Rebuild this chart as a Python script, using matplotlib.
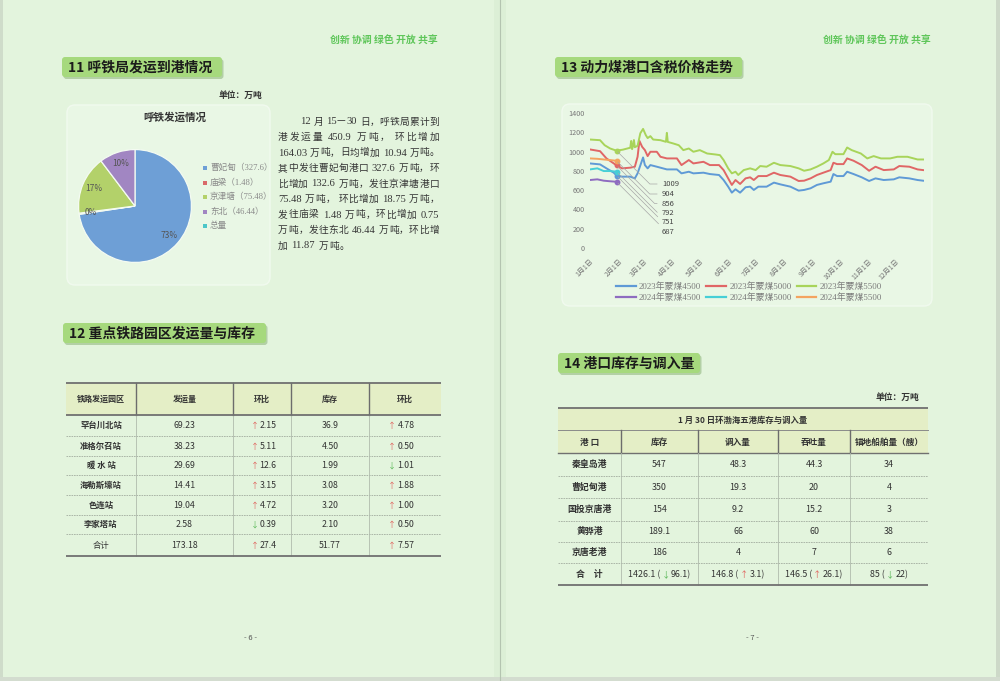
import re
import pandas as pd
import matplotlib
matplotlib.use('Agg')
import matplotlib.pyplot as plt
from matplotlib.patches import FancyBboxPatch, Rectangle

plt.rcParams['font.family'] = ['Noto Sans CJK SC', 'DejaVu Sans']
plt.rcParams['axes.unicode_minus'] = False
SERIF = ['Liberation Serif', 'Noto Sans CJK SC', 'DejaVu Sans']

# ------------------------------------------------------------------ data
slogan = '创新 协调 绿色 开放 共享'
sec11_title = '11 呼铁局发运到港情况'
sec12_title = '12 重点铁路园区发运量与库存'
sec13_title = '13 动力煤港口含税价格走势'
sec14_title = '14 港口库存与调入量'
unit_label = '单位：万吨'
page_numbers = ['- 6 -', '- 7 -']

pie_title = '呼铁发运情况'
pie_cats = ['曹妃甸', '庙梁', '京津塘', '东北', '总量']
pie_vals = [327.6, 1.48, 75.48, 46.44]

paragraph = [
    '12 月 15—30 日，呼铁局累计到',
    '港发运量 450.9 万吨， 环比增加',
    '164.03 万吨，日均增加 10.94 万吨。',
    '其中发往曹妃甸港口 327.6 万吨，环',
    '比增加 132.6 万吨，发往京津塘港口',
    '75.48 万吨， 环比增加 18.75 万吨，',
    '发往庙梁 1.48 万吨，环比增加 0.75',
    '万吨，发往东北 46.44 万吨，环比增',
    '加 11.87 万吨。',
]

t12_header = ['铁路发运园区', '发运量', '环比', '库存', '环比']
t12_station = ['罕台川北站', '准格尔召站', '暖 水 站', '海勒斯壕站', '色连站', '李家塔站', '合计']
t12_ship = ['69.23', '38.23', '29.69', '14.41', '19.04', '2.58', '173.18']
t12_ship_chg = ['+2.15', '+5.11', '+12.6', '+3.15', '+4.72', '-0.39', '+27.4']
t12_stock = ['36.9', '4.50', '1.99', '3.08', '3.20', '2.10', '51.77']
t12_stock_chg = ['+4.78', '+0.50', '-1.01', '+1.88', '+1.00', '+0.50', '+7.57']

t14_title = '1 月 30 日环渤海五港库存与调入量'
t14_header = ['港 口', '库存', '调入量', '吞吐量', '锚地船舶量（艘）']
t14_port = ['秦皇岛港', '曹妃甸港', '国投京唐港', '黄骅港', '京唐老港']
t14_stock = ['547', '350', '154', '189.1', '186']
t14_in = ['48.3', '19.3', '9.2', '66', '4']
t14_thru = ['44.3', '20', '15.2', '60', '7']
t14_anchor = ['34', '4', '3', '38', '6']
t14_total_label = '合　计'
t14_total = ['1426.1', '146.8', '146.5', '85']
t14_total_chg = ['-96.1', '+3.1', '+26.1', '-22']

month_labels = ['%d月1日' % m for m in range(1, 13)]
y_ticks = [0, 200, 400, 600, 800, 1000, 1200, 1400]

# 2023 series (day of year starting at 0 = Jan 1)
g23_days = [0, 11, 16, 22, 29, 36, 42, 44, 45, 46, 47, 48, 49, 52, 55, 58, 61, 63, 66, 69,
            77, 83, 84, 85, 91, 97, 102, 108, 113, 120, 128, 137, 142, 146, 151, 155, 159, 162,
            168, 175, 181, 186, 193, 201, 208, 219, 228, 234, 241, 248, 255, 261, 265, 268,
            277, 281, 286, 296, 303, 310, 318, 328, 336, 347, 358, 364]
g23_vals = [1125, 1118, 1066, 1032, 1009, 1020, 1035, 1040, 1110, 1025, 1060, 1120, 1045, 1060,
            1190, 1235, 1170, 1140, 1160, 1125, 1118, 1101, 1194, 1100, 1084, 1066, 1015, 1032,
            998, 1015, 980, 970, 963, 912, 826, 774, 791, 757, 808, 826, 808, 850, 843, 884,
            860, 850, 826, 801, 815, 843, 877, 912, 998, 973, 973, 1042, 1015, 980, 929, 953,
            929, 929, 946, 946, 918, 918]

r23_days = [0, 11, 18, 26, 29, 35, 44, 49, 52, 54, 57, 60, 63, 66, 73, 77, 84, 95, 100, 108,
            113, 124, 131, 141, 146, 151, 155, 159, 164, 170, 175, 179, 184, 193, 201, 208,
            219, 228, 234, 241, 248, 255, 263, 266, 270, 277, 281, 288, 297, 305, 312, 321,
            332, 338, 349, 358, 364]
r23_vals = [1022, 1004, 929, 877, 856, 826, 833, 843, 946, 1111, 1049, 1015, 953, 998, 998,
            946, 929, 929, 860, 912, 877, 894, 860, 860, 808, 722, 654, 705, 664, 722, 733,
            705, 746, 746, 781, 757, 740, 695, 698, 722, 757, 781, 808, 884, 870, 870, 929,
            905, 860, 801, 843, 808, 815, 850, 843, 815, 808]

b23_days = [0, 11, 18, 26, 29, 35, 44, 49, 52, 58, 60, 63, 66, 73, 84, 95, 100, 108, 113,
            124, 131, 141, 146, 151, 155, 159, 164, 170, 175, 179, 184, 193, 201, 208, 219,
            228, 234, 241, 248, 255, 263, 266, 270, 277, 281, 288, 297, 305, 312, 321, 332,
            338, 349, 358, 364]
b23_vals = [877, 867, 826, 781, 751, 740, 740, 722, 774, 939, 860, 826, 860, 843, 815, 815,
            774, 791, 774, 781, 767, 757, 705, 636, 574, 609, 574, 630, 636, 602, 636, 636,
            678, 660, 636, 595, 602, 619, 654, 671, 688, 767, 746, 746, 791, 767, 733, 695,
            722, 705, 712, 733, 722, 705, 698]

# 2024 series (January only)
d24_days = [0, 8, 15, 22, 29]
o24_vals = [929, 925, 918, 912, 904]
c24_vals = [815, 826, 798, 798, 792]
p24_vals = [705, 712, 698, 692, 687]

# ------------------------------------------------------------------ style
W, H = 1000, 681
BG = '#e3f4dd'
BOX = '#e9f7e5'
HEAD = '#e4eec6'
TITLE_FC = '#a6d97d'
SLOGAN = '#5fc65a'
DARK = '#333333'
UP = '#e0605a'
DOWN = '#55b653'
C_B23, C_R23, C_G23 = '#5f9ad6', '#e06666', '#a8d45a'
C_P24, C_C24, C_O24 = '#8e6cc0', '#46cfd6', '#f4a460'
PIE_COLORS = ['#6e9fd6', '#d96a6a', '#b3d16a', '#a186c2', '#4cc6c8']

fig = plt.figure(figsize=(W / 100, H / 100), dpi=100)
fig.patch.set_facecolor(BG)
ax0 = fig.add_axes([0, 0, 1, 1])
ax0.set_xlim(0, W)
ax0.set_ylim(H, 0)
ax0.axis('off')
R = fig.canvas.get_renderer()


def adv(s, size, weight='normal', family=None):
    kw = dict(fontsize=size, fontweight=weight)
    if family:
        kw['family'] = family
    t1 = ax0.text(0, 0, '|' + s + '|', **kw)
    t2 = ax0.text(0, 0, '||', **kw)
    w = t1.get_window_extent(R).width - t2.get_window_extent(R).width
    t1.remove()
    t2.remove()
    return w


def ink(s, size):
    t = ax0.text(0, 0, s, fontsize=size)
    w = t.get_window_extent(R).width
    t.remove()
    return w


def title_box(x0, y0, x1, y1, text):
    ax0.add_patch(FancyBboxPatch((x0 + 1.5, y0 + 2), x1 - x0, y1 - y0,
                                 boxstyle='round,pad=0,rounding_size=3',
                                 fc='#93b981', ec='none', alpha=0.6))
    ax0.add_patch(FancyBboxPatch((x0, y0), x1 - x0, y1 - y0,
                                 boxstyle='round,pad=0,rounding_size=3',
                                 fc=TITLE_FC, ec='none'))
    ax0.text(x0 + 6, (y0 + y1) / 2 + 0.5, text, fontsize=10, fontweight='bold',
             ha='left', va='center', color='#1b1b1b')


def chg_pieces(s):
    arrow = '↑' if s.startswith('+') else '↓'
    return arrow, (UP if s.startswith('+') else DOWN), s[1:]


def total_cell(xc, yc, total, chg, size):
    a, ac, num = chg_pieces(chg)
    left = total + ' ('
    right = num + ')'
    wl = ink(left, size)
    wa = ink(a, size * 0.95)
    wr = ink(right, size)
    pad = 1.2
    x = xc - (wl + wa + wr + 2 * pad) / 2
    ax0.text(x, yc, left, fontsize=size, color=DARK, ha='left', va='center')
    ax0.text(x + wl + pad, yc, a, fontsize=size * 0.95, color=ac, ha='left', va='center')
    ax0.text(x + wl + wa + 2 * pad, yc, right, fontsize=size, color=DARK, ha='left', va='center')


# ------------------------------------------------------------------ page furniture
ax0.add_patch(Rectangle((494, 0), 12, H, fc='#dcefd6', ec='none'))
ax0.plot([500, 500], [0, H], color='#b4c4b0', lw=0.8)
ax0.add_patch(Rectangle((0, 0), 3, H, fc='#cfdcca', ec='none'))
ax0.add_patch(Rectangle((996, 0), 4, H, fc='#cdd9c8', ec='none'))
ax0.add_patch(Rectangle((0, 677), W, 4, fc='#d3dccf', ec='none'))

ax0.text(330, 41, slogan, fontsize=7.1, color=SLOGAN, ha='left', va='center', fontweight='bold')
ax0.text(823, 41, slogan, fontsize=7.1, color=SLOGAN, ha='left', va='center', fontweight='bold')
ax0.text(250, 638, page_numbers[0], fontsize=5.5, color='#555555', ha='center', va='center')
ax0.text(752, 638, page_numbers[1], fontsize=5.5, color='#555555', ha='center', va='center')

title_box(62, 57, 222, 77, sec11_title)
title_box(63, 323, 266, 343, sec12_title)
title_box(555, 57, 742, 77, sec13_title)
title_box(558, 353, 700, 373, sec14_title)

# ------------------------------------------------------------------ section 11
ax0.text(240, 95, unit_label, fontsize=6.3, fontweight='bold', color=DARK, ha='center', va='center')
ax0.add_patch(FancyBboxPatch((67, 105), 203, 180, boxstyle='round,pad=0,rounding_size=8',
                             fc=BOX, ec='#f1faef', lw=1))
ax0.text(175, 117, pie_title, fontsize=7.6, fontweight='bold', color=DARK, ha='center', va='center')

for i, cat in enumerate(pie_cats):
    y = 168 + 14.5 * i
    ax0.add_patch(Rectangle((203, y - 2), 4, 4, fc=PIE_COLORS[i], ec='none'))
    lab = cat + ('（%s）' % pie_vals[i] if i < len(pie_vals) else '')
    ax0.text(210, y, lab, fontsize=6.2, color='#8a8a8a', ha='left', va='center', family=SERIF)

# paragraph (justified)
P_SIZE = 7.0
em = P_SIZE * 100 / 72
for i, line in enumerate(paragraph):
    yc = 121 + 15.5 * i
    base = yc + 0.36 * em
    x0 = 300 if i == 0 else 278
    x1 = 439
    toks = re.findall(r'\d+(?:\.\d+)?| |\S', line)
    ws = []
    for t in toks:
        if t == ' ':
            ws.append(0.25 * em)
        elif ord(t[0]) > 127:
            ws.append(em)
        else:
            ws.append(adv(t, P_SIZE * 1.08, family=SERIF))
    if i == len(paragraph) - 1:
        gap = 0.6
    else:
        gap = (x1 - x0 - sum(ws)) / (len(toks) - 1)
    x = x0
    for t, w in zip(toks, ws):
        if t != ' ':
            if ord(t[0]) > 127:
                ax0.text(x, base, t, fontsize=P_SIZE, color='#363636', ha='left', va='baseline')
            else:
                ax0.text(x, base, t, fontsize=P_SIZE * 1.08, color='#363636', ha='left',
                         va='baseline', family=SERIF)
        x += w + gap

# ------------------------------------------------------------------ table 12
c12 = [66, 136, 233, 291, 369, 441]
r12 = [383, 415, 436, 456, 475, 495, 515, 534, 556]
ax0.add_patch(Rectangle((c12[0], r12[0]), c12[-1] - c12[0], r12[1] - r12[0], fc=HEAD, ec='none'))
for y in r12[2:-1]:
    ax0.plot([c12[0], c12[-1]], [y, y], color='#a3ad9f', lw=0.6, ls=(0, (2, 1)))
for x in c12[1:-1]:
    ax0.plot([x, x], [r12[0], r12[1]], color='#6c6c6c', lw=1.0)
    ax0.plot([x, x], [r12[1], r12[-1]], color='#b0bbad', lw=0.6)
for y in (r12[0], r12[1], r12[-1]):
    ax0.plot([c12[0], c12[-1]], [y, y], color='#707070', lw=1.3, solid_capstyle='butt')

cen12 = [(c12[i] + c12[i + 1]) / 2 for i in range(5)]
for x, s in zip(cen12, t12_header):
    ax0.text(x, 399.5, s, fontsize=5.8, fontweight='bold', color=DARK, ha='center', va='center')
arrow_x12 = {2: 254.5, 4: 392}
num_x12 = {2: 259.5, 4: 397.5}
for i in range(len(t12_station)):
    yc = (r12[i + 1] + r12[i + 2]) / 2 + 0.3
    bold = 'normal' if i == len(t12_station) - 1 else 'bold'
    ax0.text(cen12[0], yc, t12_station[i], fontsize=6, fontweight=bold, color=DARK,
             ha='center', va='center')
    ax0.text(cen12[1], yc, t12_ship[i], fontsize=6.3, color=DARK, ha='center', va='center')
    ax0.text(cen12[3], yc, t12_stock[i], fontsize=6.3, color=DARK, ha='center', va='center')
    for col, val in ((2, t12_ship_chg[i]), (4, t12_stock_chg[i])):
        a, ac, num = chg_pieces(val)
        ax0.text(arrow_x12[col], yc, a, fontsize=5.8, color=ac, ha='center', va='center')
        ax0.text(num_x12[col], yc, num, fontsize=6.3, color=DARK, ha='left', va='center')

# ------------------------------------------------------------------ table 14
ax0.text(897, 397, unit_label, fontsize=6.3, fontweight='bold', color=DARK, ha='center', va='center')
c14 = [558, 621, 698, 778, 850, 928]
r14 = [408, 430, 453, 476, 498, 521, 542, 563, 585]
ax0.add_patch(Rectangle((c14[0], r14[0]), c14[-1] - c14[0], r14[2] - r14[0], fc=HEAD, ec='none'))
ax0.plot([c14[0], c14[-1]], [r14[1], r14[1]], color='#8a8a8a', lw=0.7)
ax0.plot([c14[0], c14[-1]], [r14[2], r14[2]], color='#707070', lw=1.0)
for y in r14[3:-1]:
    ax0.plot([c14[0], c14[-1]], [y, y], color='#a3ad9f', lw=0.6, ls=(0, (2, 1)))
for x in c14[1:-1]:
    ax0.plot([x, x], [r14[1], r14[2]], color='#6c6c6c', lw=1.0)
    ax0.plot([x, x], [r14[2], r14[-1]], color='#b0bbad', lw=0.6)
for y in (r14[0], r14[-1]):
    ax0.plot([c14[0], c14[-1]], [y, y], color='#707070', lw=1.3, solid_capstyle='butt')

ax0.text((c14[0] + c14[-1]) / 2, 420.5, t14_title, fontsize=6, fontweight='bold', color=DARK,
         ha='center', va='center')
cen14 = [(c14[i] + c14[i + 1]) / 2 for i in range(5)]
for x, s in zip(cen14, t14_header):
    ax0.text(x, 442.5, s, fontsize=6.2, fontweight='bold', color=DARK, ha='center', va='center')
for i in range(len(t14_port)):
    yc = (r14[i + 2] + r14[i + 3]) / 2 + 0.3
    ax0.text(cen14[0], yc, t14_port[i], fontsize=6.4, fontweight='bold', color=DARK,
             ha='center', va='center')
    for j, col in enumerate((t14_stock, t14_in, t14_thru, t14_anchor)):
        ax0.text(cen14[j + 1], yc, col[i], fontsize=6.4, color=DARK, ha='center', va='center')
yc = (r14[-2] + r14[-1]) / 2 + 0.3
ax0.text(cen14[0], yc, t14_total_label, fontsize=6.4, fontweight='bold', color=DARK,
         ha='center', va='center')
for j in range(4):
    total_cell(cen14[j + 1], yc, t14_total[j], t14_total_chg[j], 6.4)

# ------------------------------------------------------------------ section 13 chart box
ax0.add_patch(FancyBboxPatch((562, 104), 370, 202, boxstyle='round,pad=0,rounding_size=8',
                             fc=BOX, ec='#f1faef', lw=1))

# ------------------------------------------------------------------ pie
pc, pr = (135, 206), 57
ax_p = fig.add_axes([(pc[0] - pr) / W, 1 - (pc[1] + pr) / H, 2 * pr / W, 2 * pr / H])
wedges, texts, autotexts = ax_p.pie(
    pie_vals, colors=PIE_COLORS[:len(pie_vals)], startangle=90, counterclock=False,
    autopct='%.0f%%', pctdistance=0.8,
    wedgeprops=dict(edgecolor='#f4fbf2', linewidth=0.9),
    textprops=dict(fontsize=6, color='#555555'))
ax_p.set_xlim(-1.01, 1.01)
ax_p.set_ylim(-1.01, 1.01)
ax_p.set_aspect('equal')

# ------------------------------------------------------------------ line chart
ax_c = fig.add_axes([590 / W, 1 - 248 / H, 334 / W, 135 / H])
ax_c.patch.set_alpha(0)
series = [
    (b23_days, b23_vals, C_B23, '2023年蒙煤4500'),
    (r23_days, r23_vals, C_R23, '2023年蒙煤5000'),
    (g23_days, g23_vals, C_G23, '2023年蒙煤5500'),
    (d24_days, p24_vals, C_P24, '2024年蒙煤4500'),
    (d24_days, c24_vals, C_C24, '2024年蒙煤5000'),
    (d24_days, o24_vals, C_O24, '2024年蒙煤5500'),
]
handles = []
ends = {}
for d, v, c, lab in series:
    ln, = ax_c.plot(d, v, color=c, lw=1.4, solid_joinstyle='round', label=lab)
    handles.append(ln)
    k = d.index(29)
    ax_c.plot([d[k]], [v[k]], 'o', ms=3.2, color=c)
    ends[lab] = (d[k], v[k])

ax_c.set_xlim(0, 365)
ax_c.set_ylim(0, 1400)
for sp in ax_c.spines.values():
    sp.set_visible(False)
month_days = list(pd.date_range('2023-01-01', periods=12, freq='MS').dayofyear - 1)
ax_c.set_xticks(month_days)
ax_c.set_xticklabels(month_labels, rotation=45, ha='right', rotation_mode='anchor',
                     fontsize=5, color='#777777')
ax_c.set_yticks(y_ticks)
ax_c.set_yticklabels([str(t) for t in y_ticks], fontsize=5.2, color='#777777')
ax_c.tick_params(axis='both', length=0)
ax_c.tick_params(axis='y', pad=4)
ax_c.tick_params(axis='x', pad=7)

anno_order = ['2023年蒙煤5500', '2024年蒙煤5500', '2023年蒙煤5000',
              '2024年蒙煤5000', '2023年蒙煤4500', '2024年蒙煤4500']
label_rows = [184, 194, 203.5, 213, 222.5, 232]
for lab, ly in zip(anno_order, label_rows):
    dx, vy = ends[lab]
    ax_c.annotate(str(vy), xy=(dx, vy), xytext=(662, H - ly), textcoords='figure pixels',
                  fontsize=5.5, color='#444444', ha='left', va='center',
                  arrowprops=dict(arrowstyle='-', color='#a8a8a8', lw=0.5,
                                  shrinkA=1.5, shrinkB=1.5,
                                  connectionstyle='angle,angleA=0,angleB=-45,rad=0'))

order = [0, 3, 1, 4, 2, 5]
leg = ax_c.legend([handles[i] for i in order], [series[i][3] for i in order], ncol=3,
                  loc='center', bbox_to_anchor=(749 / W, 1 - 292 / H),
                  bbox_transform=fig.transFigure, frameon=False,
                  prop=dict(family=SERIF, size=6.4),
                  handlelength=2.2, handletextpad=0.35, columnspacing=0.6,
                  labelspacing=0.2, borderpad=0)
for t in leg.get_texts():
    t.set_color('#7a7a7a')
for l in leg.get_lines():
    l.set_linewidth(1.6)

fig.savefig('out.png', dpi=100, facecolor=BG)
